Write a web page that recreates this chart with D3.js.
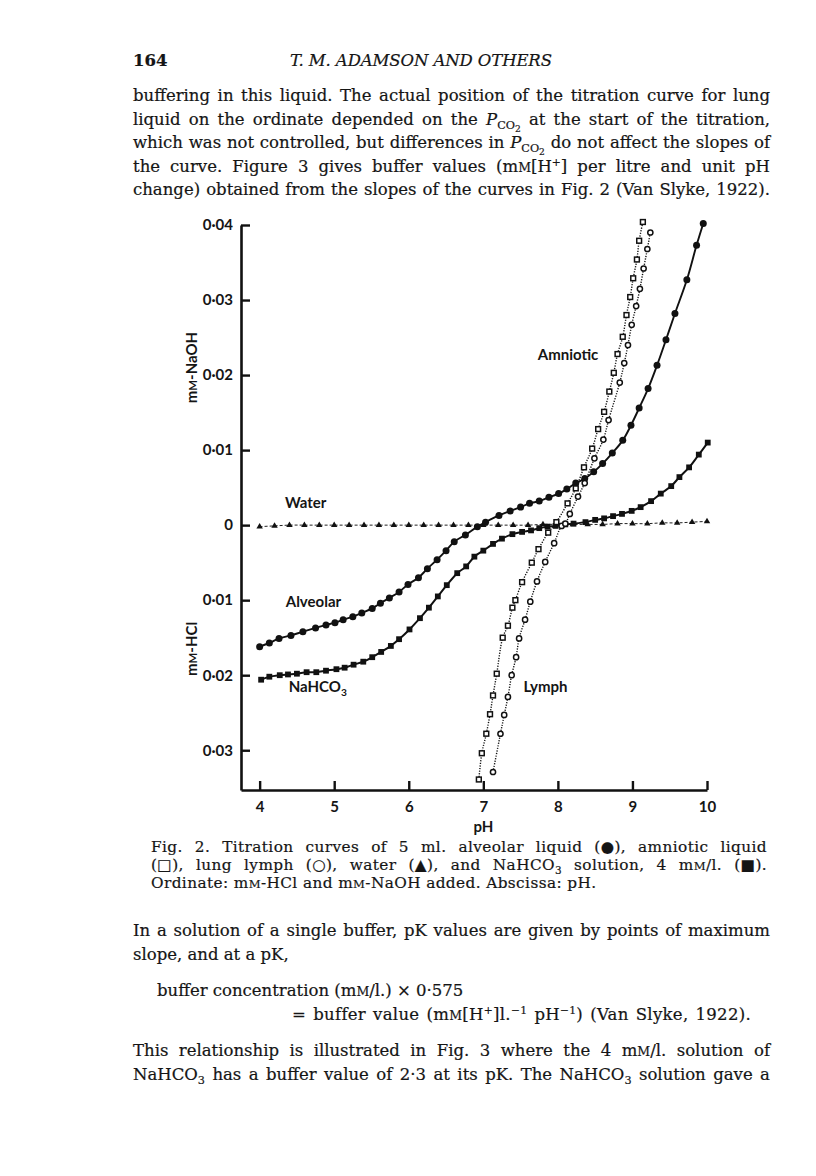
<!DOCTYPE html>
<html>
<head>
<meta charset="utf-8">
<script src="https://cdn.jsdelivr.net/npm/d3@7"></script>
<style>
  body { margin: 0; background: #fff; }
  svg { display: block; }
  .serif { font-family: "DejaVu Serif", serif; fill: #151515; stroke: #151515; stroke-width: 0.2px; }
  .sans { font-family: Lato, sans-serif; font-weight: bold; fill: #151515; }
</style>
</head>
<body>
<svg id="page" width="816" height="1176"></svg>
<script>
// ---- data (pH, mM acid(-) / base(+) added) ----
const alveolarPH = [4.00, 4.13, 4.26, 4.42, 4.58, 4.75, 4.89, 5.01, 5.12, 5.25, 5.37, 5.51, 5.62, 5.74, 5.87, 5.99,
  6.13, 6.25, 6.38, 6.50, 6.61, 6.76, 6.92, 7.03, 7.21, 7.36, 7.50, 7.62, 7.75, 7.88, 8.01, 8.12, 8.24, 8.36,
  8.48, 8.60, 8.73, 8.87, 8.98, 9.09, 9.21, 9.33, 9.45, 9.57, 9.73, 9.86, 9.95];
const alveolarVal = [-0.0162, -0.0157, -0.0151, -0.0147, -0.0142, -0.0137, -0.0133, -0.0130, -0.0126, -0.0122,
  -0.0117, -0.0111, -0.0104, -0.0097, -0.0089, -0.0079, -0.0070, -0.0058, -0.0046, -0.0034, -0.0022, -0.0013,
  -0.0002, 0.0004, 0.0013, 0.0019, 0.0024, 0.0029, 0.0032, 0.0037, 0.0042, 0.0048, 0.0056, 0.0062, 0.0071,
  0.0082, 0.0096, 0.0113, 0.0133, 0.0156, 0.0182, 0.0213, 0.0247, 0.0282, 0.0327, 0.0373, 0.0402];

const bicarbPH = [4.02, 4.13, 4.27, 4.38, 4.50, 4.63, 4.76, 4.89, 5.03, 5.14, 5.26, 5.39, 5.51, 5.63, 5.76, 5.87,
  6.01, 6.15, 6.27, 6.39, 6.51, 6.65, 6.77, 6.88, 7.00, 7.13, 7.25, 7.39, 7.52, 7.64, 7.75, 7.86, 7.97, 8.10,
  8.21, 8.37, 8.50, 8.62, 8.74, 8.86, 8.99, 9.11, 9.25, 9.38, 9.52, 9.63, 9.76, 9.89, 10.01];
const bicarbVal = [-0.0206, -0.0202, -0.0200, -0.0199, -0.0198, -0.0196, -0.0196, -0.0194, -0.0192, -0.0190,
  -0.0186, -0.0182, -0.0176, -0.0169, -0.0161, -0.0152, -0.0139, -0.0124, -0.0110, -0.0095, -0.0080, -0.0064,
  -0.0055, -0.0042, -0.0034, -0.0025, -0.0018, -0.0012, -0.0009, -0.0007, -0.0004, -0.0002, -0.0001, 0.0001,
  0.0002, 0.0004, 0.0007, 0.0009, 0.0012, 0.0015, 0.0019, 0.0024, 0.0032, 0.0042, 0.0052, 0.0064, 0.0077,
  0.0094, 0.0110];

const amnioticPH = [6.94, 6.98, 7.04, 7.09, 7.13, 7.18, 7.26, 7.33, 7.39, 7.43, 7.52, 7.65, 7.74, 7.87, 7.98,
  8.13, 8.24, 8.35, 8.46, 8.54, 8.62, 8.69, 8.75, 8.80, 8.87, 8.92, 8.97, 9.01, 9.06, 9.09, 9.14];
const amnioticVal = [-0.0339, -0.0304, -0.0278, -0.0252, -0.0227, -0.0198, -0.0150, -0.0134, -0.0110, -0.0100,
  -0.0076, -0.0050, -0.0032, -0.0010, 0.0004, 0.0029, 0.0049, 0.0077, 0.0102, 0.0128, 0.0151, 0.0178, 0.0203,
  0.0228, 0.0251, 0.0280, 0.0304, 0.0329, 0.0354, 0.0379, 0.0404];

const lymphPH = [7.13, 7.23, 7.28, 7.33, 7.38, 7.44, 7.48, 7.56, 7.63, 7.72, 7.83, 7.95, 8.05, 8.10, 8.16, 8.27,
  8.36, 8.49, 8.61, 8.68, 8.83, 8.89, 8.94, 8.99, 9.05, 9.10, 9.15, 9.20, 9.24];
const lymphVal = [-0.0329, -0.0278, -0.0253, -0.0229, -0.0200, -0.0176, -0.0151, -0.0126, -0.0102, -0.0075,
  -0.0049, -0.0024, -0.0001, 0.0002, 0.0015, 0.0038, 0.0056, 0.0089, 0.0114, 0.0140, 0.0190, 0.0216, 0.0240,
  0.0267, 0.0292, 0.0315, 0.0342, 0.0368, 0.0390];

const waterPH = [4.0, 4.2, 4.4, 4.6, 4.8, 5.0, 5.2, 5.4, 5.6, 5.8, 6.0, 6.2, 6.4, 6.6, 6.8, 7.0, 7.2, 7.4, 7.6,
  7.8, 8.0, 8.2, 8.4, 8.6, 8.8, 9.0, 9.2, 9.4, 9.6, 9.8, 10.0];
const waterVal = [-0.0002, -0.0001, 0, 0, 0, 0, 0, 0, 0, 0, 0, 0, 0, 0, 0, 0, 0, 0, 0, 0.0001, 0.0001, 0.0001,
  0.0001, 0.0001, 0.0002, 0.0002, 0.0002, 0.0003, 0.0003, 0.0004, 0.0005];

const xTicks = [4, 5, 6, 7, 8, 9, 10];
const yTicks = [0.04, 0.03, 0.02, 0.01, 0, -0.01, -0.02, -0.03];
const yTickLabels = ["0·04", "0·03", "0·02", "0·01", "0", "0·01", "0·02", "0·03"];

const svg = d3.select("#page");

// small markup helper: *italic*  ~smallcaps~  _{sub}  __{deeper sub}  ^{sup}
function rich(textSel, str, size) {
  const tokens = str.match(/(__\{[^}]*\}|_\{[^}]*\}|\^\{[^}]*\}|\*[^*]*\*|~[^~]*~|[^_^*~]+)/g);
  let shift = 0;
  let plain = "";
  tokens.forEach((tok) => {
    let txt = tok, target = 0, fs = null, italic = false;
    if (tok.startsWith("__{")) { txt = tok.slice(3, -1); target = size * 0.42; fs = size * 0.55; }
    else if (tok.startsWith("_{")) { txt = tok.slice(2, -1); target = size * 0.25; fs = size * 0.68; }
    else if (tok.startsWith("^{")) { txt = tok.slice(2, -1); target = -size * 0.38; fs = size * 0.65; }
    else if (tok.startsWith("*")) { txt = tok.slice(1, -1); italic = true; }
    else if (tok.startsWith("~")) { txt = tok.slice(1, -1).toUpperCase(); fs = size * 0.76; }
    plain += txt;
    const t = textSel.append("tspan").text(txt);
    if (target !== shift) { t.attr("dy", target - shift); shift = target; }
    if (fs) t.attr("font-size", fs);
    if (italic) t.attr("font-style", "italic");
  });
  return plain;
}

function line(x, y, str, opts = {}) {
  const size = opts.size || 16;
  const t = svg.append("text")
    .attr("class", opts.cls || "serif")
    .attr("x", x).attr("y", y)
    .attr("font-size", size);
  if (opts.anchor) t.attr("text-anchor", opts.anchor);
  if (opts.style) t.attr("font-style", opts.style);
  if (opts.weight) t.attr("font-weight", opts.weight);
  if (opts.letter) t.style("letter-spacing", opts.letter + "px");
  if (opts.fit) t.attr("textLength", opts.fit).attr("lengthAdjust", "spacing");
  const plain = rich(t, str, size);
  if (opts.width) {
    // justify by widening the word gaps
    const gaps = plain.split(" ").length - 1;
    const natural = t.node().getComputedTextLength();
    if (gaps > 0) t.style("word-spacing", ((opts.width - natural) / gaps).toFixed(2) + "px");
  }
  return t;
}

// ---- page text ----
line(133, 66, "164", { size: 16.5, weight: "bold" });
line(290, 66, "T. M. ADAMSON AND OTHERS", { size: 16.5, style: "italic", fit: 262 });

const para1 = [
  "buffering in this liquid. The actual position of the titration curve for lung",
  "liquid on the ordinate depended on the *P*_{CO}__{2} at the start of the titration,",
  "which was not controlled, but differences in *P*_{CO}__{2} do not affect the slopes of",
  "the curve. Figure 3 gives buffer values (m~m~[H^{+}] per litre and unit pH",
  "change) obtained from the slopes of the curves in Fig. 2 (Van Slyke, 1922).",
];
para1.forEach((s, i) => line(133, 101 + i * 23.6, s, { size: 16.5, width: 637 }));

const caption = [
  "Fig. 2. Titration curves of 5 ml. alveolar liquid (●), amniotic liquid",
  "(□), lung lymph (○), water (▲), and NaHCO_{3} solution, 4 m~m~/l. (■).",
];
caption.forEach((s, i) => line(151, 852 + i * 18, s, { size: 15.3, letter: 0.4, width: 616 }));
line(151, 888, "Ordinate: m~m~-HCl and m~m~-NaOH added. Abscissa: pH.", { size: 15.3, letter: 0.4 });

line(133, 936, "In a solution of a single buffer, pK values are given by points of maximum", { size: 16.5, width: 637 });
line(133, 960, "slope, and at a pK,", { size: 16.5 });
line(157, 996, "buffer concentration (m~m~/l.) × 0·575", { size: 16.5 });
line(292, 1020, "= buffer value (m~m~[H^{+}]l.^{−1} pH^{−1}) (Van Slyke, 1922).", { size: 16.5, letter: 0.3, width: 459 });
line(133, 1056, "This relationship is illustrated in Fig. 3 where the 4 m~m~/l. solution of", { size: 16.5, width: 637 });
line(133, 1080, "NaHCO_{3} has a buffer value of 2·3 at its pK. The NaHCO_{3} solution gave a", { size: 16.5, width: 637 });

// ---- chart ----
const x = d3.scaleLinear().domain([3.75, 10]).range([241, 707]);
const y = d3.scaleLinear().domain([-0.0353, 0.04]).range([790, 225]);

const chart = svg.append("g");

const yAxis = chart.append("g")
  .attr("transform", `translate(${x(3.75)},0)`)
  .call(d3.axisLeft(y).tickValues(yTicks).tickSize(-9).tickSizeOuter(0).tickPadding(8)
    .tickFormat((d, i) => yTickLabels[i]));

const xAxis = chart.append("g")
  .attr("transform", `translate(0,${y(-0.0353)})`)
  .call(d3.axisBottom(x).tickValues(xTicks).tickSize(-9).tickSizeOuter(0).tickPadding(11)
    .tickFormat(d3.format("d")));

[yAxis, xAxis].forEach((ax) => {
  ax.select(".domain").attr("stroke", "#111").attr("stroke-width", 2.6);
  ax.selectAll(".tick line").attr("stroke", "#111").attr("stroke-width", 2.4);
  ax.selectAll(".tick text").attr("class", "sans").attr("font-size", 15).attr("fill", "#151515");
});

// axis titles
line(0, 0, "m~m~-NaOH", { cls: "sans", size: 15, anchor: "middle" })
  .attr("transform", `translate(197,${y(0.021)}) rotate(-90)`);
line(0, 0, "m~m~-HCl", { cls: "sans", size: 15, anchor: "middle" })
  .attr("transform", `translate(197,${y(-0.0165)}) rotate(-90)`);
line(x(7), 832, "pH", { cls: "sans", size: 15, anchor: "middle" });

const pts = (px, vals) => px.map((p, i) => [p, vals[i]]);
const alveolar = pts(alveolarPH, alveolarVal);
const bicarb = pts(bicarbPH, bicarbVal);
const amniotic = pts(amnioticPH, amnioticVal);
const lymph = pts(lymphPH, lymphVal);
const water = pts(waterPH, waterVal);

const curve = d3.line().x((d) => x(d[0])).y((d) => y(d[1])).curve(d3.curveCatmullRom);

chart.append("path").datum(water).attr("d", curve)
  .attr("fill", "none").attr("stroke", "#222").attr("stroke-width", 1).attr("stroke-dasharray", "3 2");
chart.append("path").datum(alveolar).attr("d", curve)
  .attr("fill", "none").attr("stroke", "#111").attr("stroke-width", 1.9);
chart.append("path").datum(bicarb).attr("d", curve)
  .attr("fill", "none").attr("stroke", "#111").attr("stroke-width", 2);
chart.append("path").datum(amniotic).attr("d", curve)
  .attr("fill", "none").attr("stroke", "#111").attr("stroke-width", 1.4).attr("stroke-dasharray", "1.2 1.4");
chart.append("path").datum(lymph).attr("d", curve)
  .attr("fill", "none").attr("stroke", "#111").attr("stroke-width", 1.4).attr("stroke-dasharray", "1.2 1.4");

// markers
chart.selectAll(".tri").data(water).enter().append("path")
  .attr("class", "tri")
  .attr("d", d3.symbol(d3.symbolTriangle, 18))
  .attr("transform", (d) => `translate(${x(d[0])},${y(d[1])})`)
  .attr("fill", "#111");

chart.selectAll(".alv").data(alveolar).enter().append("circle")
  .attr("class", "alv")
  .attr("cx", (d) => x(d[0])).attr("cy", (d) => y(d[1])).attr("r", 3.5)
  .attr("fill", "#111");

chart.selectAll(".bic").data(bicarb).enter().append("rect")
  .attr("class", "bic")
  .attr("x", (d) => x(d[0]) - 2.9).attr("y", (d) => y(d[1]) - 2.9)
  .attr("width", 5.8).attr("height", 5.8)
  .attr("fill", "#111");

chart.selectAll(".amn").data(amniotic).enter().append("rect")
  .attr("class", "amn")
  .attr("x", (d) => x(d[0]) - 2.4).attr("y", (d) => y(d[1]) - 2.4)
  .attr("width", 4.8).attr("height", 4.8)
  .attr("fill", "#fff").attr("stroke", "#111").attr("stroke-width", 1.5);

chart.selectAll(".lym").data(lymph).enter().append("circle")
  .attr("class", "lym")
  .attr("cx", (d) => x(d[0])).attr("cy", (d) => y(d[1])).attr("r", 2.6)
  .attr("fill", "#fff").attr("stroke", "#111").attr("stroke-width", 1.5);

// curve labels
line(x(4.34), y(0.0023), "Water", { cls: "sans", size: 15 });
line(x(7.73), y(0.022), "Amniotic", { cls: "sans", size: 15 });
line(x(4.35), y(-0.0109), "Alveolar", { cls: "sans", size: 15 });
line(x(4.39), y(-0.0223), "NaHCO_{3}", { cls: "sans", size: 15 });
line(x(7.54), y(-0.0222), "Lymph", { cls: "sans", size: 15 });
</script>
</body>
</html>
